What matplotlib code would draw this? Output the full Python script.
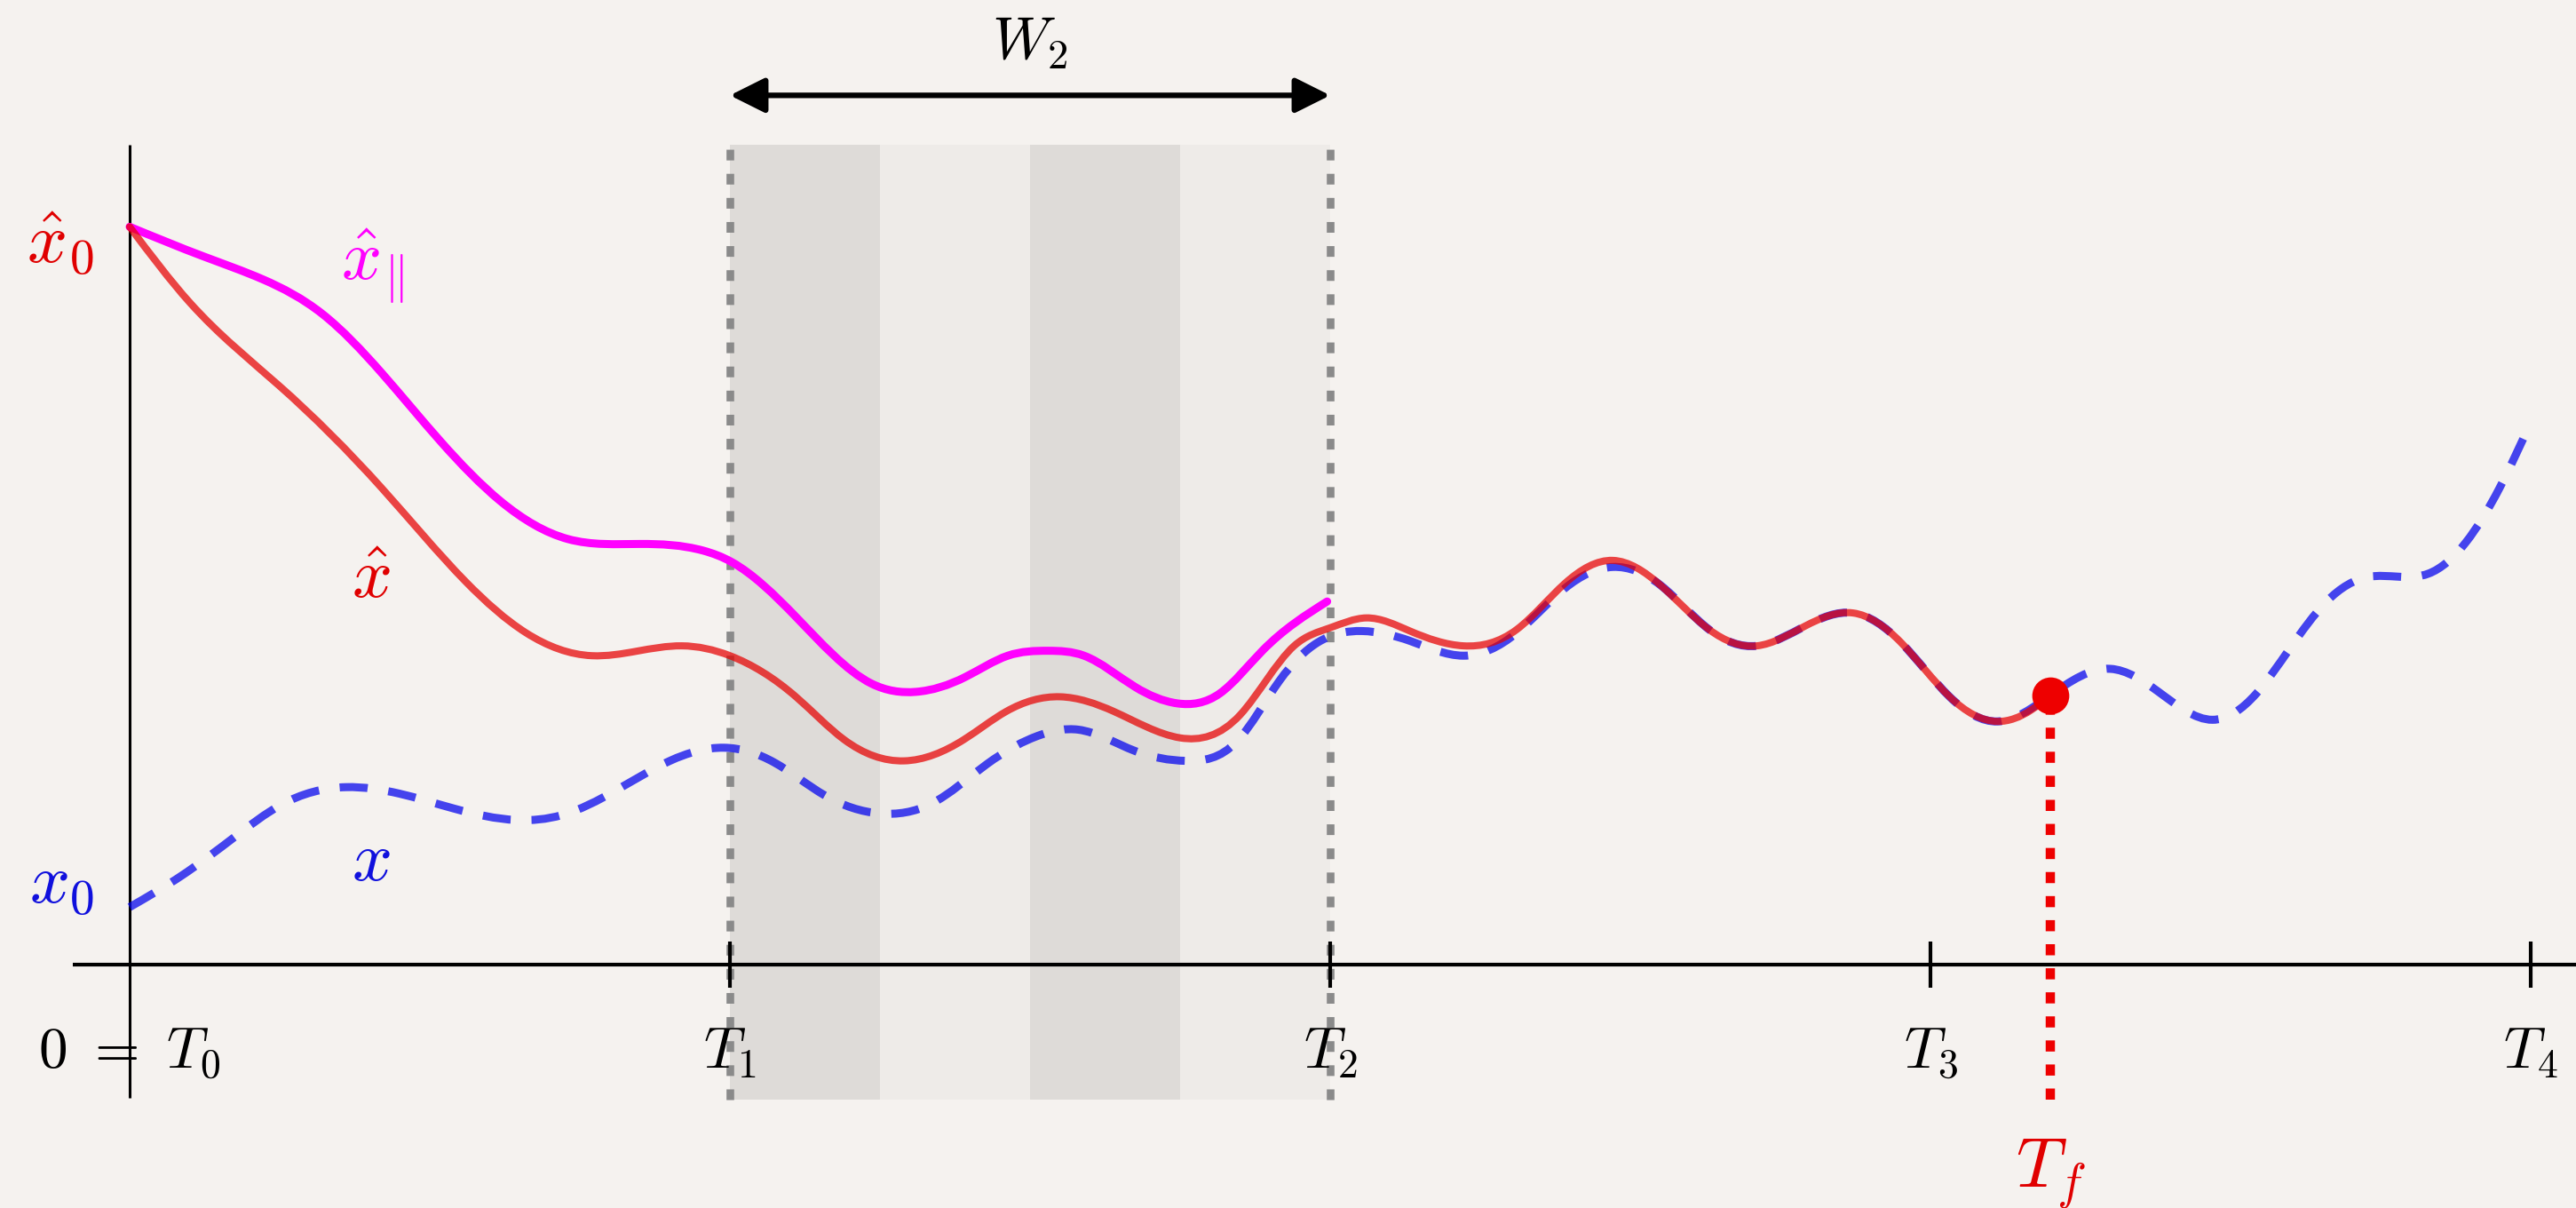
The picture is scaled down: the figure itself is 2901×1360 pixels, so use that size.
import numpy as np
import matplotlib
matplotlib.use("Agg")
import matplotlib.pyplot as plt
from matplotlib.path import Path
from matplotlib.patches import PathPatch, Rectangle

plt.rcParams["mathtext.fontset"] = "cm"

# ---------------------------------------------------------------- data
# time grid: T_k = k
tick_pos = [0, 1, 2, 3, 4]
tick_labels = [r"$0\ =\ T_0$", r"$T_1$", r"$T_2$", r"$T_3$", r"$T_4$"]
t_final = 3.2
window = (1.0, 2.0)          # W_2 = [T_1, T_2]
n_bands = 4

# true trajectory x
t_x = [0.0, 0.086, 0.176, 0.251, 0.36, 0.45, 0.54, 0.645, 0.72, 0.81,
       0.90, 0.99, 1.074, 1.158, 1.25, 1.336, 1.428, 1.519, 1.58, 1.675,
       1.76, 1.845, 1.916, 1.979, 2.053, 2.133, 2.222, 2.311, 2.391, 2.471,
       2.55, 2.631, 2.711, 2.791, 2.871, 2.951, 3.032, 3.112, 3.2,
       3.30, 3.38, 3.47, 3.543, 3.598, 3.66, 3.73, 3.83, 3.892, 3.948, 4.0]
y_x = [0.35, 0.54, 0.78, 0.97, 1.08, 1.04, 0.95, 0.88, 0.91, 1.06,
       1.24, 1.32, 1.23, 1.03, 0.92, 0.98, 1.22, 1.40, 1.43, 1.30,
       1.24, 1.36, 1.73, 1.96, 2.03, 1.97, 1.88, 2.02, 2.29, 2.42,
       2.31, 2.04, 1.94, 2.06, 2.14, 1.96, 1.63, 1.48, 1.64,
       1.80, 1.66, 1.49, 1.65, 1.92, 2.21, 2.36, 2.38, 2.57, 2.90, 3.30]

# estimate x_hat
t_hat = [0.0, 0.1, 0.25, 0.42, 0.56, 0.66, 0.77, 0.92, 1.0, 1.11,
         1.19, 1.29, 1.39, 1.46, 1.55, 1.64, 1.75, 1.85, 1.94, 2.0,
         2.06, 2.133, 2.222, 2.311, 2.391, 2.471, 2.55, 2.631, 2.711, 2.791,
         2.871, 2.951, 3.032, 3.112, 3.168, 3.2]
y_hat = [4.49, 4.03, 3.52, 2.90, 2.33, 2.02, 1.88, 1.94, 1.88, 1.63,
         1.37, 1.24, 1.37, 1.54, 1.63, 1.54, 1.38, 1.52, 1.94, 2.05,
         2.11, 2.03, 1.94, 2.04, 2.32, 2.46, 2.31, 2.04, 1.94, 2.06,
         2.14, 1.96, 1.63, 1.48, 1.55, 1.64]

# parallel estimate x_hat_par
t_par = [0.0, 0.123, 0.222, 0.321, 0.42, 0.519, 0.618, 0.73, 0.85, 0.955,
         1.003, 1.109, 1.236, 1.31, 1.392, 1.463, 1.53, 1.59, 1.675, 1.745,
         1.816, 1.887, 1.995]
y_par = [4.49, 4.31, 4.17, 3.96, 3.60, 3.18, 2.82, 2.59, 2.56, 2.52,
         2.45, 2.12, 1.71, 1.66, 1.75, 1.88, 1.91, 1.88, 1.69, 1.59,
         1.65, 1.91, 2.21]

# ---------------------------------------------------------------- style
BG = "#f5f2ef"
BAND_DARK = "#dedbd8"
BAND_LIGHT = "#eeebe8"
GRID_GRAY = "#8a8a8a"
RED_TXT = "#e00000"
BLUE_TXT = "#1010dd"
MAGENTA = "#ff00ff"
RED_LINE = (0.9, 0.0, 0.0, 0.72)
BLUE_LINE = (0.0, 0.0, 0.93, 0.72)
DOT_RED = "#ee0000"

Y_TOP, Y_BOT = 4.99, -0.82


def spline_slopes(t, y):
    """Node tangents of the natural cubic spline through (t, y)."""
    n = len(t)
    h = np.diff(t)
    A = np.zeros((n, n))
    r = np.zeros(n)
    A[0, 0] = A[-1, -1] = 1.0
    for i in range(1, n - 1):
        A[i, i - 1] = h[i - 1]
        A[i, i] = 2 * (h[i - 1] + h[i])
        A[i, i + 1] = h[i]
        r[i] = 6 * ((y[i + 1] - y[i]) / h[i] - (y[i] - y[i - 1]) / h[i - 1])
    M = np.linalg.solve(A, r)
    m = np.empty(n)
    m[:-1] = np.diff(y) / h - h * (2 * M[:-1] + M[1:]) / 6
    m[-1] = (y[-1] - y[-2]) / h[-1] + h[-1] * (M[-2] + 2 * M[-1]) / 6
    return m


def smooth_path(t, y):
    """Cubic Bezier path passing through the given points."""
    t = np.asarray(t, float)
    y = np.asarray(y, float)
    m = spline_slopes(t, y)
    verts = [(t[0], y[0])]
    codes = [Path.MOVETO]
    for i in range(len(t) - 1):
        h = t[i + 1] - t[i]
        verts += [(t[i] + h / 3, y[i] + m[i] * h / 3),
                  (t[i + 1] - h / 3, y[i + 1] - m[i + 1] * h / 3),
                  (t[i + 1], y[i + 1])]
        codes += [Path.CURVE4] * 3
    return Path(verts, codes)


fig = plt.figure(figsize=(29.01, 13.60), dpi=100, facecolor=BG)
ax = fig.add_axes([0, 0, 1, 1])
ax.set_facecolor(BG)
ax.set_xlim(-146 / 676, (2901 - 146) / 676)
ax.set_ylim(-(1360 - 1086) / 185, 1086 / 185)
ax.axis("off")

# shaded window split into alternating bands
w0, w1 = window
bw = (w1 - w0) / n_bands
for k in range(n_bands):
    ax.add_patch(Rectangle((w0 + k * bw, Y_BOT), bw, Y_TOP - Y_BOT,
                           facecolor=BAND_DARK if k % 2 == 0 else BAND_LIGHT,
                           edgecolor="none", zorder=0))
for xv in window:
    ax.plot([xv, xv], [Y_BOT, Y_TOP], color=GRID_GRAY, lw=6.2,
            linestyle=(0, (1.4, 1.75)), solid_capstyle="butt", zorder=1)

# axes
ax.plot([0, 0], [Y_BOT + 0.01, Y_TOP], color="black", lw=2.2, zorder=2,
        solid_capstyle="butt")
ax.plot([-0.095, 4.1], [0, 0], color="black", lw=3.0, zorder=2,
        solid_capstyle="butt")
for tp in tick_pos[1:]:
    ax.plot([tp, tp], [-0.14, 0.14], color="black", lw=3.0, zorder=2,
            solid_capstyle="butt")
for tp, lab in zip(tick_pos, tick_labels):
    ax.text(tp, -0.63, lab, ha="center", va="baseline", fontsize=47,
            color="black", zorder=6)

# curves
ax.add_patch(PathPatch(smooth_path(t_x, y_x), fill=False, edgecolor=BLUE_LINE,
                       lw=6.5, linestyle=(0, (3.5, 2.6)), capstyle="butt",
                       zorder=3))
ax.add_patch(PathPatch(smooth_path(t_par, y_par), fill=False,
                       edgecolor=MAGENTA, lw=6.5, capstyle="round", zorder=4))
ax.add_patch(PathPatch(smooth_path(t_hat, y_hat), fill=False,
                       edgecolor=RED_LINE, lw=5.8, capstyle="round", zorder=4))

# final time marker
y_final = y_hat[-1]
ax.plot([t_final, t_final], [Y_BOT, y_final], color=DOT_RED, lw=7.5,
        linestyle=(0, (1.2, 1.4)), zorder=5)
ax.plot([t_final], [y_final], marker="o", markersize=30, color=DOT_RED,
        markeredgewidth=0, zorder=6)
ax.text(t_final, -1.357, r"$T_f$", ha="center", va="baseline", fontsize=57,
        color=RED_TXT)

# window arrow
ax.annotate("", xy=(w1, 5.29), xytext=(w0, 5.29),
            arrowprops=dict(arrowstyle="<|-|>", mutation_scale=60, lw=4.5,
                            color="black", shrinkA=0, shrinkB=0))
ax.text((w0 + w1) / 2, 5.51, r"$W_2$", ha="center", va="baseline",
        fontsize=48, color="black")

# labels
ax.text(-0.115, 4.39, r"$\hat{x}_0$", ha="center", va="center", fontsize=57,
        color=RED_TXT)
ax.text(-0.114, 0.49, r"$x_0$", ha="center", va="center", fontsize=57,
        color=BLUE_TXT)
ax.text(0.404, 4.25, r"$\hat{x}_{\Vert}$", ha="center", va="center",
        fontsize=57, color=MAGENTA)
ax.text(0.402, 2.35, r"$\hat{x}$", ha="center", va="center", fontsize=57,
        color=RED_TXT)
ax.text(0.402, 0.63, r"$x$", ha="center", va="center", fontsize=57,
        color=BLUE_TXT)

fig.savefig("out.png", dpi=100, facecolor=BG)
